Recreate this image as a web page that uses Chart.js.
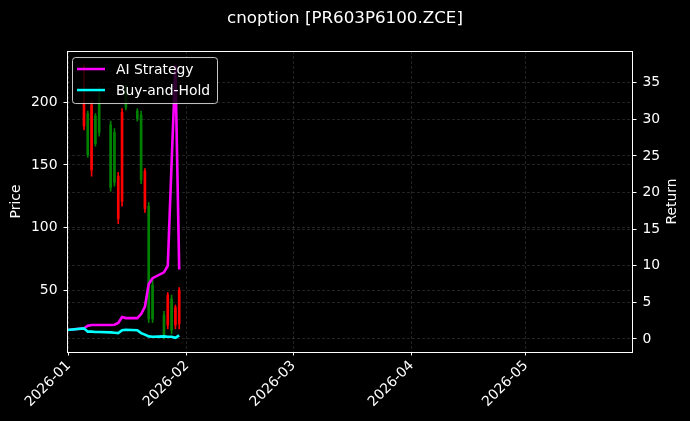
<!DOCTYPE html>
<html>
<head>
<meta charset="utf-8">
<script src="https://cdn.jsdelivr.net/npm/chart.js@4.4.1/dist/chart.umd.min.js"></script>
<style>
  html, body { margin: 0; padding: 0; background: #000; }
  #wrap { width: 690px; height: 421px; }
</style>
</head>
<body>
<div id="wrap"><canvas id="chart" width="690" height="421"></canvas></div>
<script>
// candle data (price, left axis)
const candleDates = ['2026-01-05', '2026-01-06', '2026-01-07', '2026-01-08', '2026-01-09',
    '2026-01-12', '2026-01-13', '2026-01-14', '2026-01-15', '2026-01-16',
    '2026-01-19', '2026-01-20', '2026-01-21', '2026-01-22', '2026-01-23',
    '2026-01-26', '2026-01-27', '2026-01-28', '2026-01-29', '2026-01-30'];
const opens  = [200, 158, 198, 167, 176, 132, 136, 141, 192, 196, 187, 138, 145, 27, 27, 14, 46, 18, 36, 50];
const highs  = [230, 193, 201, 191, 212, 185, 179, 144, 195, 214, 195, 193, 147, 120, 58, 33, 48, 46, 38, 52];
const lows   = [178, 156, 141, 165, 173, 129, 133, 103, 117, 194, 185, 135, 112, 24, 24, 11, 19, 15, 19, 19];
const closes = [181, 191, 146, 189, 205, 182, 176, 107, 121, 210, 193, 190, 115, 117, 54, 30, 22, 43, 22, 23];

// return curves (right axis)
const lineDates = ['2025-12-31'].concat(candleDates);
const aiStrategy = [1.2, 1.45, 1.8, 1.9, 1.9, 1.9, 1.9, 1.95, 2.2, 3.0, 2.85,
    2.85, 3.4, 4.4, 7.5, 8.3, 9.1, 10.0, 24.0, 37.4, 9.5];
const buyHold = [1.2, 1.45, 1.0, 1.0, 0.95, 0.95, 0.9, 0.85, 0.8, 1.2, 1.25,
    1.2, 0.8, 0.6, 0.35, 0.3, 0.35, 0.3, 0.3, 0.15, 0.5];

// axis ticks
const priceTicks = [50, 100, 150, 200];
const returnTicks = [0, 5, 10, 15, 20, 25, 30, 35];
const monthLabels = ['2026-01', '2026-02', '2026-03', '2026-04', '2026-05'];

const DAY = 86400000;
const dayOf = s => (Date.parse(s) - Date.parse('2026-01-01')) / DAY;
const monthTicks = monthLabels.map(m => dayOf(m + '-01'));

const upColor = '#008000';
const downColor = '#ff0000';
const candleColors = candleDates.map((d, i) => closes[i] >= opens[i] ? upColor : downColor);

const wickData = candleDates.map((d, i) => ({ x: dayOf(d), y: [lows[i], highs[i]] }));
const bodyData = candleDates.map((d, i) => ({
    x: dayOf(d),
    y: [Math.min(opens[i], closes[i]), Math.max(opens[i], closes[i])]
}));

Chart.defaults.font.family = 'DejaVu Sans';
Chart.defaults.font.size = 13.9;
Chart.defaults.color = '#ffffff';

const tickFont = { family: 'DejaVu Sans', size: 13.9 };
const gridOpts = {
    offset: false,
    color: 'rgba(176,176,176,0.28)',
    lineWidth: 0.7,
    tickColor: '#ffffff',
    tickLength: 3.5,
    tickWidth: 1,
    tickBorderDash: []
};

// frame, right axis title and legend drawn on top
const overlay = {
    id: 'overlay',
    beforeDraw(chart) {
        const { ctx } = chart;
        ctx.save();
        ctx.fillStyle = '#000';
        ctx.fillRect(0, 0, chart.width, chart.height);
        ctx.restore();
    },
    afterDraw(chart) {
        const { ctx, chartArea: a } = chart;
        ctx.save();

        ctx.strokeStyle = '#ffffff';
        ctx.lineWidth = 1;
        ctx.strokeRect(Math.round(a.left) + 0.5, Math.round(a.top) + 0.5,
            Math.round(a.right - a.left) - 1, Math.round(a.bottom - a.top));

        // right axis title
        ctx.fillStyle = '#ffffff';
        ctx.font = '13.9px "DejaVu Sans"';
        ctx.textAlign = 'center';
        ctx.textBaseline = 'middle';
        ctx.translate(a.right + 39, (a.top + a.bottom) / 2);
        ctx.rotate(-Math.PI / 2);
        ctx.fillText('Return', 0, 0);
        ctx.setTransform(1, 0, 0, 1, 0, 0);

        // legend
        const lx = a.left + 5, ly = a.top + 6, lw = 145, lh = 46;
        ctx.beginPath();
        ctx.roundRect(lx + 0.5, ly + 0.5, lw, lh, 3);
        ctx.fillStyle = 'rgba(0,0,0,0.8)';
        ctx.fill();
        ctx.strokeStyle = 'rgba(220,220,220,0.9)';
        ctx.lineWidth = 1;
        ctx.stroke();

        const items = chart.data.datasets.filter(ds => ds.type === 'line');
        ctx.textAlign = 'left';
        items.forEach((ds, i) => {
            const y = ly + 12 + i * 21;
            ctx.beginPath();
            ctx.moveTo(lx + 5, y);
            ctx.lineTo(lx + 33, y);
            ctx.strokeStyle = ds.borderColor;
            ctx.lineWidth = 2.5;
            ctx.stroke();
            ctx.fillStyle = '#ffffff';
            ctx.fillText(ds.label, lx + 44, y + 1);
        });
        ctx.restore();
    }
};

new Chart(document.getElementById('chart'), {
    type: 'bar',
    data: {
        datasets: [
            {
                type: 'line',
                label: 'AI Strategy',
                data: lineDates.map((d, i) => ({ x: dayOf(d), y: aiStrategy[i] })),
                borderColor: '#ff00ff',
                borderWidth: 2.6,
                pointRadius: 0,
                tension: 0,
                yAxisID: 'yRet',
                order: 1
            },
            {
                type: 'line',
                label: 'Buy-and-Hold',
                data: lineDates.map((d, i) => ({ x: dayOf(d), y: buyHold[i] })),
                borderColor: '#00ffff',
                borderWidth: 2.6,
                pointRadius: 0,
                tension: 0,
                yAxisID: 'yRet',
                order: 0
            },
            {
                label: 'body',
                data: bodyData,
                backgroundColor: candleColors,
                borderWidth: 0,
                barThickness: 2,
                grouped: false,
                yAxisID: 'yPrice',
                order: 2
            },
            {
                label: 'wick',
                data: wickData,
                backgroundColor: candleColors,
                borderWidth: 0,
                barThickness: 1,
                grouped: false,
                yAxisID: 'yPrice',
                order: 3
            }
        ]
    },
    options: {
        responsive: false,
        animation: false,
        layout: { padding: 0 },
        plugins: {
            legend: { display: false },
            tooltip: { enabled: false },
            title: {
                display: true,
                text: 'cnoption [PR603P6100.ZCE]',
                color: '#ffffff',
                font: { family: 'DejaVu Sans', size: 16.7, weight: 'normal' },
                padding: { top: 9, bottom: 22 }
            }
        },
        scales: {
            x: {
                type: 'linear',
                offset: false,
                min: -0.45,
                max: 148.1,
                afterBuildTicks: s => { s.ticks = monthTicks.map(v => ({ value: v })); },
                afterFit: s => { s.height = 69; },
                ticks: {
                    autoSkip: false,
                    minRotation: 45,
                    maxRotation: 45,
                    padding: 2,
                    color: '#ffffff',
                    font: tickFont,
                    callback: (v, i) => monthLabels[i]
                },
                grid: gridOpts,
                border: { display: false, dash: [3, 2] }
            },
            yPrice: {
                type: 'linear',
                position: 'left',
                min: 0.5,
                max: 241,
                afterBuildTicks: s => { s.ticks = priceTicks.map(v => ({ value: v })); },
                afterFit: s => { s.width = 67; },
                ticks: { padding: 6, color: '#ffffff', font: tickFont },
                title: {
                    display: true,
                    text: 'Price',
                    color: '#ffffff',
                    font: tickFont,
                    padding: { top: 8, bottom: 0 }
                },
                grid: gridOpts,
                border: { display: false, dash: [3, 2] }
            },
            yRet: {
                type: 'linear',
                position: 'right',
                min: -1.78,
                max: 39.33,
                afterBuildTicks: s => { s.ticks = returnTicks.map(v => ({ value: v })); },
                afterFit: s => { s.width = 57; },
                ticks: { padding: 6, color: '#ffffff', font: tickFont },
                grid: gridOpts,
                border: { display: false, dash: [3, 2] }
            }
        }
    },
    plugins: [overlay]
});
</script>
</body>
</html>
